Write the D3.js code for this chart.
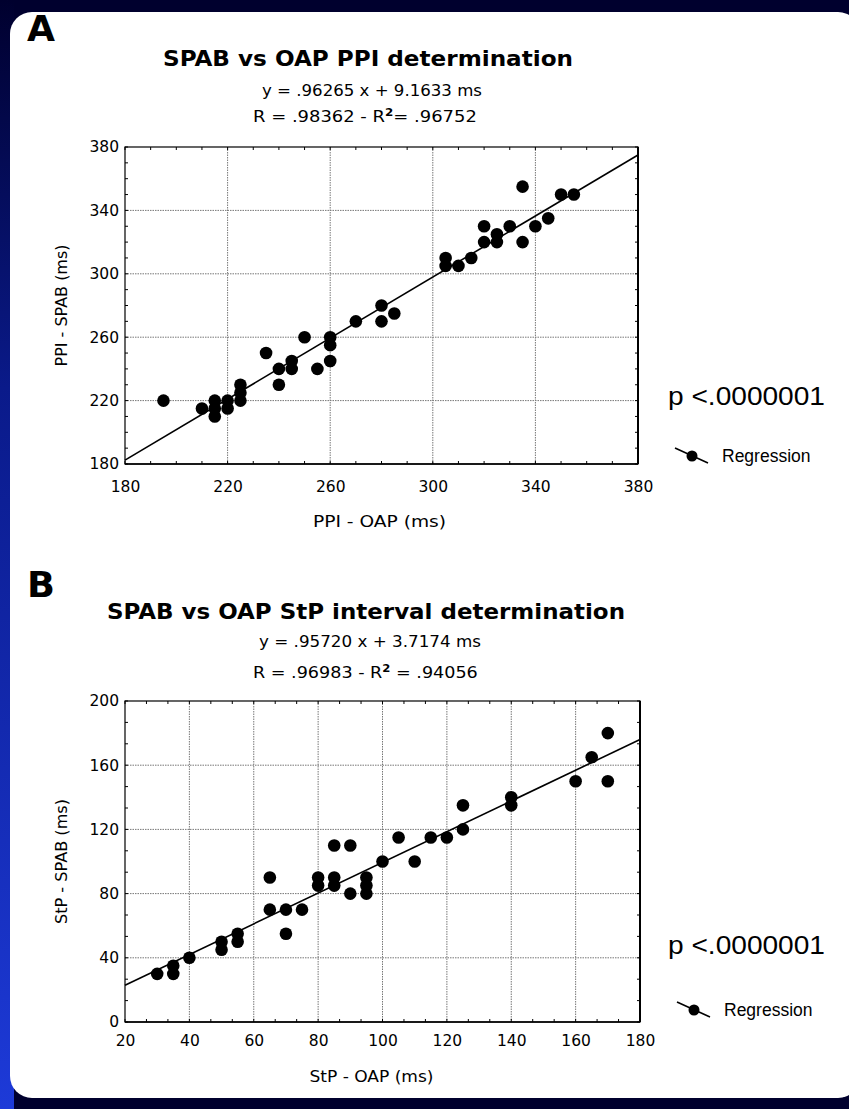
<!DOCTYPE html>
<html><head><meta charset="utf-8">
<script src="https://cdn.jsdelivr.net/npm/d3@7"></script>
<style>body{margin:0;background:#00002e;} svg{display:block}</style>
</head><body><svg id="c" width="849" height="1109"></svg>
<script>
// ---- Data ----
const ppiOAP  = [195,210,215,215,215,220,220,225,225,225,235,240,240,245,245,250,255,260,260,260,270,280,280,285,305,305,310,315,320,320,325,325,330,335,335,340,345,350,355];
const ppiSPAB = [220,215,220,215,210,220,215,230,225,220,250,240,230,245,240,260,240,260,255,245,270,280,270,275,310,305,305,310,330,320,325,320,330,355,320,330,335,350,350];
const stpOAP  = [30,35,35,40,50,50,55,55,65,65,70,70,75,80,80,85,85,85,90,90,95,95,95,100,105,110,115,120,125,125,140,140,160,165,170,170];
const stpSPAB = [30,35,30,40,50,45,55,50,90,70,70,55,70,90,85,110,90,85,110,80,90,85,80,100,115,100,115,115,135,120,140,135,150,165,180,150];
const ppiTicks  = [180,220,260,300,340,380];
const stpXTicks = [20,40,60,80,100,120,140,160,180];
const stpYTicks = [0,40,80,120,160,200];
const ppiFit = {slope: 0.96265, intercept: 9.1633};
const stpFit = {slope: 0.95720, intercept: 3.7174};
const panelLetters = ["A","B"];
const titles = ["SPAB vs OAP PPI determination","SPAB vs OAP StP interval determination"];
const eqLines = [["y = .96265 x + 9.1633 ms","R = .98362 - R","= .96752"],["y = .95720 x + 3.7174 ms","R = .96983 - R"," = .94056"]];
const xLabels = ["PPI - OAP (ms)","StP - OAP (ms)"];
const yLabels = ["PPI - SPAB (ms)","StP - SPAB (ms)"];
const pText = "p <.0000001";
const legendText = "Regression";

const svg = d3.select("#c");
const defs = svg.append("defs");
const g1 = defs.append("linearGradient").attr("id","edge").attr("x1",0).attr("y1",0).attr("x2",0).attr("y2",1);
g1.append("stop").attr("offset","0%").attr("stop-color","#00002e");
g1.append("stop").attr("offset","35%").attr("stop-color","#0a1a8a");
g1.append("stop").attr("offset","100%").attr("stop-color","#1d3ad8");
svg.append("rect").attr("width",849).attr("height",1109).attr("fill","#00002e");
svg.append("rect").attr("x",0).attr("y",0).attr("width",14).attr("height",1109).attr("fill","url(#edge)");
svg.append("rect").attr("x",10).attr("y",12).attr("width",850).attr("height",1086).attr("rx",22).attr("fill","#fff");

const FONT = "'DejaVu Sans', Verdana, sans-serif";
const SANS = "'Liberation Sans', Arial, sans-serif";

// stretch a group horizontally so its content spans `w` px starting at x0
function fitGroup(grp, x0, w){
  const bb = grp.node().getBBox();
  const s = w / bb.width;
  grp.attr("transform", `translate(${x0},0) scale(${s},1) translate(${-bb.x},0)`);
}

function panel(cfg){
  const x = d3.scaleLinear().domain(cfg.xd).range([cfg.left, cfg.right]);
  const y = d3.scaleLinear().domain(cfg.yd).range([cfg.bottom, cfg.top]);
  const g = svg.append("g");
  // letter
  g.append("text").attr("x",27).attr("y",cfg.letterY).attr("font-family",FONT).attr("font-weight","bold")
    .attr("font-size",35).attr("textLength",28).attr("lengthAdjust","spacingAndGlyphs").text(cfg.letter);
  // title
  g.append("text").attr("x",cfg.titleX).attr("y",cfg.titleY).attr("text-anchor","middle").attr("font-family",FONT)
    .attr("font-weight","bold").attr("font-size",22).attr("textLength",cfg.titleW).attr("lengthAdjust","spacingAndGlyphs").text(cfg.title);
  // equation lines
  g.append("text").attr("x",cfg.eqX).attr("y",cfg.eqY1).attr("font-family",FONT).attr("font-size",15)
    .attr("textLength",cfg.eqW1).attr("lengthAdjust","spacingAndGlyphs").text(cfg.eq[0]);
  const eg = g.append("g");
  const t2 = eg.append("text").attr("x",0).attr("y",cfg.eqY2).attr("font-family",FONT).attr("font-size",15);
  t2.append("tspan").text(cfg.eq[1]);
  t2.append("tspan").attr("font-size",10).attr("dy",-6).attr("font-weight","bold").text("2");
  t2.append("tspan").attr("dy",6).text(cfg.eq[2]);
  fitGroup(eg, cfg.eqX2, cfg.eqW2);

  // grid
  const gridX = cfg.xt.slice(1,-1), gridY = cfg.yt.slice(1,-1);
  g.append("g").selectAll("line").data(gridX).join("line")
    .attr("x1",d=>x(d)).attr("x2",d=>x(d)).attr("y1",cfg.top).attr("y2",cfg.bottom)
    .attr("stroke","#777").attr("stroke-width",1).attr("stroke-dasharray","1.5,1");
  g.append("g").selectAll("line").data(gridY).join("line")
    .attr("y1",d=>y(d)).attr("y2",d=>y(d)).attr("x1",cfg.left).attr("x2",cfg.right)
    .attr("stroke","#777").attr("stroke-width",1).attr("stroke-dasharray","1.5,1");

  // minor ticks inward
  const mx = d3.range(cfg.xd[0], cfg.xd[1]+1e-6, cfg.xMinor);
  const my = d3.range(cfg.yd[0], cfg.yd[1]+1e-6, cfg.yMinor);
  const tk = g.append("g").attr("stroke","#000").attr("stroke-width",1);
  mx.forEach(v=>{
    tk.append("line").attr("x1",x(v)).attr("x2",x(v)).attr("y1",cfg.bottom).attr("y2",cfg.bottom-3);
    tk.append("line").attr("x1",x(v)).attr("x2",x(v)).attr("y1",cfg.top).attr("y2",cfg.top+3);
  });
  my.forEach(v=>{
    tk.append("line").attr("y1",y(v)).attr("y2",y(v)).attr("x1",cfg.left).attr("x2",cfg.left+3);
    tk.append("line").attr("y1",y(v)).attr("y2",y(v)).attr("x1",cfg.right).attr("x2",cfg.right-3);
  });

  // axes with labels
  const xa = g.append("g").attr("transform",`translate(0,${cfg.bottom})`)
    .call(d3.axisBottom(x).tickValues(cfg.xt).tickSize(0).tickPadding(cfg.xPad).tickFormat(d3.format("d")));
  xa.select(".domain").remove();
  xa.selectAll("text").attr("font-family",FONT).attr("font-size",15.5).attr("fill","#000");
  const ya = g.append("g").attr("transform",`translate(${cfg.left},0)`)
    .call(d3.axisLeft(y).tickValues(cfg.yt).tickSize(0).tickPadding(6).tickFormat(d3.format("d")));
  ya.select(".domain").remove();
  ya.selectAll("text").attr("font-family",FONT).attr("font-size",15.5).attr("fill","#000");

  // frame
  g.append("rect").attr("x",cfg.left).attr("y",cfg.top).attr("width",cfg.right-cfg.left).attr("height",cfg.bottom-cfg.top)
    .attr("fill","none").attr("stroke","#000").attr("stroke-width",1.2);
  g.append("line").attr("x1",cfg.right).attr("x2",cfg.right).attr("y1",cfg.top).attr("y2",cfg.bottom).attr("stroke","#000").attr("stroke-width",2);
  g.append("line").attr("x1",cfg.left).attr("x2",cfg.right).attr("y1",cfg.bottom).attr("y2",cfg.bottom).attr("stroke","#000").attr("stroke-width",1.6);

  // axis titles
  g.append("text").attr("x",(cfg.left+cfg.right)/2 + cfg.xLabDx).attr("y",cfg.xLabY).attr("text-anchor","middle")
    .attr("font-family",FONT).attr("font-size",16).attr("textLength",cfg.xLabW).attr("lengthAdjust","spacingAndGlyphs").text(cfg.xLab);
  g.append("text").attr("transform",`translate(${cfg.yLabX},${(cfg.top+cfg.bottom)/2}) rotate(-90)`).attr("text-anchor","middle")
    .attr("font-family",FONT).attr("font-size",16).attr("textLength",cfg.yLabW).attr("lengthAdjust","spacingAndGlyphs").text(cfg.yLab);

  // regression line
  const x0 = cfg.xd[0], x1 = cfg.xd[1];
  g.append("line").attr("x1",x(x0)).attr("y1",y(cfg.fit.slope*x0+cfg.fit.intercept))
    .attr("x2",x(x1)).attr("y2",y(cfg.fit.slope*x1+cfg.fit.intercept)).attr("stroke","#000").attr("stroke-width",1.6);

  // points
  g.append("g").selectAll("circle").data(cfg.xs.map((v,i)=>[v,cfg.ys[i]])).join("circle")
    .attr("cx",d=>x(d[0])).attr("cy",d=>y(d[1])).attr("r",6.3).attr("fill","#000");

  // p value and legend
  g.append("text").attr("x",668).attr("y",cfg.pY).attr("font-family",SANS).attr("font-size",25)
    .attr("textLength",157).attr("lengthAdjust","spacingAndGlyphs").text(pText);
  g.append("line").attr("x1",cfg.legX).attr("y1",cfg.legY-9).attr("x2",cfg.legX+33).attr("y2",cfg.legY+6).attr("stroke","#000").attr("stroke-width",1.6);
  g.append("circle").attr("cx",cfg.legX+17).attr("cy",cfg.legY-1).attr("r",5.5).attr("fill","#000");
  g.append("text").attr("x",cfg.legX+47).attr("y",cfg.legY+5).attr("font-family",SANS).attr("font-size",17.5).text(legendText);
}

panel({letter:panelLetters[0], letterY:41, title:titles[0], titleX:368, titleY:66, titleW:410,
  eq:eqLines[0], eqX:262, eqY1:96, eqW1:220, eqX2:253, eqY2:122, eqW2:224,
  left:125, right:638, top:147, bottom:464, xd:[180,380], yd:[180,380], xt:ppiTicks, yt:ppiTicks, xPad:17,
  xMinor:10, yMinor:10, xLab:xLabels[0], yLab:yLabels[0], xLabY:527, xLabDx:-2, xLabW:133, yLabX:67, yLabW:122,
  fit:ppiFit, xs:ppiOAP, ys:ppiSPAB, pY:405, legX:675, legY:457});

panel({letter:panelLetters[1], letterY:597, title:titles[1], titleX:366, titleY:619, titleW:518,
  eq:eqLines[1], eqX:259, eqY1:647, eqW1:222, eqX2:253, eqY2:678, eqW2:225,
  left:125, right:640, top:701, bottom:1022, xd:[20,180], yd:[0,200], xt:stpXTicks, yt:stpYTicks, xPad:13,
  xMinor:20/3, yMinor:40/3, xLab:xLabels[1], yLab:yLabels[1], xLabY:1082, xLabDx:-11, xLabW:124, yLabX:67, yLabW:125,
  fit:stpFit, xs:stpOAP, ys:stpSPAB, pY:954, legX:677, legY:1011});
</script></body></html>
